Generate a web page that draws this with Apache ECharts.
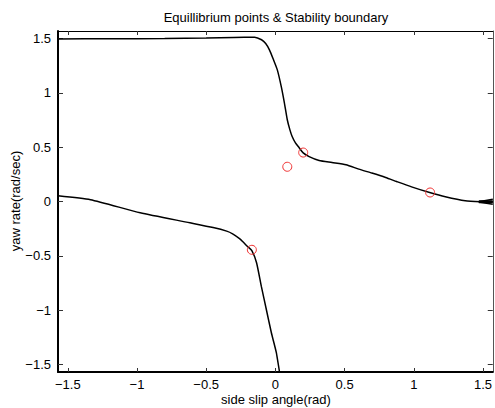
<!DOCTYPE html>
<html>
<head>
<meta charset="utf-8">
<script src="https://cdn.jsdelivr.net/npm/echarts@6/dist/echarts.min.js"></script>
<style>html,body{margin:0;padding:0;background:#fff}#c{width:495px;height:408px}</style>
</head>
<body>
<div id="c"></div>
<script>
// Tick values
var xTicks = [-1.5, -1, -0.5, 0, 0.5, 1, 1.5];
var yTicks = [-1.5, -1, -0.5, 0, 0.5, 1, 1.5];

// Upper stability boundary curve
var upperX = [-1.571, -1.2, -0.8, -0.5, -0.3, -0.15, -0.10, -0.07, -0.043, -0.015, 0.014, 0.043, 0.065, 0.086, 0.105, 0.122, 0.145, 0.172, 0.201, 0.244, 0.316, 0.409, 0.51, 0.603, 0.697, 0.797, 0.876, 0.984, 1.121, 1.228, 1.372, 1.487, 1.571];
var upperY = [1.498, 1.499, 1.502, 1.506, 1.511, 1.514, 1.49, 1.455, 1.397, 1.31, 1.213, 1.056, 0.909, 0.753, 0.66, 0.596, 0.54, 0.495, 0.448, 0.414, 0.378, 0.359, 0.338, 0.298, 0.262, 0.221, 0.184, 0.135, 0.080, 0.043, 0.006, -0.003, -0.005];

// Lower stability boundary curve
var lowerX = [-1.571, -1.336, -0.977, -0.618, -0.45, -0.352, -0.309, -0.259, -0.237, -0.201, -0.17, -0.136, -0.101, -0.065, -0.029, 0.007, 0.03];
var lowerY = [0.052, 0.016, -0.104, -0.196, -0.240, -0.273, -0.298, -0.342, -0.368, -0.415, -0.452, -0.564, -0.785, -0.997, -1.209, -1.393, -1.571];

// Converging trajectories at the right edge
var endX = [1.47, 1.571];
var endTopY = [-0.002, 0.02];
var endMidY = [-0.003, -0.003];
var endBotY = [-0.004, -0.025];

// Equilibrium points
var eqX = [-0.17, 0.086, 0.201, 1.118];
var eqY = [-0.445, 0.32, 0.451, 0.083];

function zip(a, b) { return a.map(function (v, i) { return [v, b[i]]; }); }
function fmt(v) { return String(v).replace('-', '\u2212'); }

var FONT = '"Liberation Sans", Arial, Helvetica, sans-serif';
var HALF = Math.PI / 2;

var chart = echarts.init(document.getElementById('c'), null, { renderer: 'svg' });

function lineSeries(data, w) {
  return {
    type: 'line', data: data, xAxisIndex: 0, yAxisIndex: 0,
    showSymbol: false, symbol: 'none', smooth: 0.2,
    lineStyle: { color: '#000', width: w }, silent: true, animation: false, z: 3
  };
}

chart.setOption({
  animation: false,
  backgroundColor: '#fff',
  grid: { left: 58, right: 1, top: 31, bottom: 36, containLabel: false },
  xAxis: [
    {
      type: 'value', position: 'bottom', min: -HALF, max: HALF,
      axisLine: { show: true, onZero: false, lineStyle: { color: '#000', width: 2 } },
      axisTick: { show: true, inside: true, length: 4, customValues: xTicks, lineStyle: { color: '#333', width: 1 } },
      axisLabel: { customValues: xTicks, formatter: fmt, color: '#000', fontSize: 13, fontFamily: FONT, margin: 6 },
      splitLine: { show: false }
    },
    {
      type: 'value', position: 'top', min: -HALF, max: HALF,
      axisLine: { show: true, onZero: false, lineStyle: { color: '#000', width: 1 } },
      axisTick: { show: true, inside: true, length: 4, customValues: xTicks, lineStyle: { color: '#333', width: 1 } },
      axisLabel: { show: false },
      splitLine: { show: false }
    }
  ],
  yAxis: [
    {
      type: 'value', position: 'left', min: -HALF, max: HALF,
      axisLine: { show: true, onZero: false, lineStyle: { color: '#000', width: 2 } },
      axisTick: { show: true, inside: true, length: 5, customValues: yTicks, lineStyle: { color: '#333', width: 1 } },
      axisLabel: { customValues: yTicks, formatter: fmt, color: '#000', fontSize: 13, fontFamily: FONT, margin: 7 },
      splitLine: { show: false }
    },
    {
      type: 'value', position: 'right', min: -HALF, max: HALF,
      axisLine: { show: true, onZero: false, lineStyle: { color: '#555', width: 1 } },
      axisTick: { show: true, inside: true, length: 5, customValues: yTicks, lineStyle: { color: '#333', width: 1 } },
      axisLabel: { show: false },
      splitLine: { show: false }
    }
  ],
  graphic: [
    { type: 'text', x: 276, y: 17, style: { text: 'Equillibrium points & Stability boundary', fill: '#000', font: '13px ' + FONT, textAlign: 'center', textVerticalAlign: 'middle' } },
    { type: 'text', x: 276, y: 399, style: { text: 'side slip angle(rad)', fill: '#000', font: '13px ' + FONT, textAlign: 'center', textVerticalAlign: 'middle' } },
    { type: 'text', x: 15, y: 201, rotation: Math.PI / 2, style: { text: 'yaw rate(rad/sec)', fill: '#000', font: '13px ' + FONT, textAlign: 'center', textVerticalAlign: 'middle' } }
  ],
  series: [
    lineSeries(zip(upperX, upperY), 1.5),
    lineSeries(zip(lowerX, lowerY), 1.5),
    lineSeries(zip(endX, endTopY), 1.5),
    lineSeries(zip(endX, endMidY), 3),
    lineSeries(zip(endX, endBotY), 1.5),
    {
      type: 'scatter', data: zip(eqX, eqY), symbol: 'circle', symbolSize: 9,
      itemStyle: { color: 'rgba(0,0,0,0)', borderColor: '#f03030', borderWidth: 1, opacity: 1 },
      emphasis: { disabled: true }, silent: true, z: 5
    }
  ]
});
</script>
</body>
</html>
